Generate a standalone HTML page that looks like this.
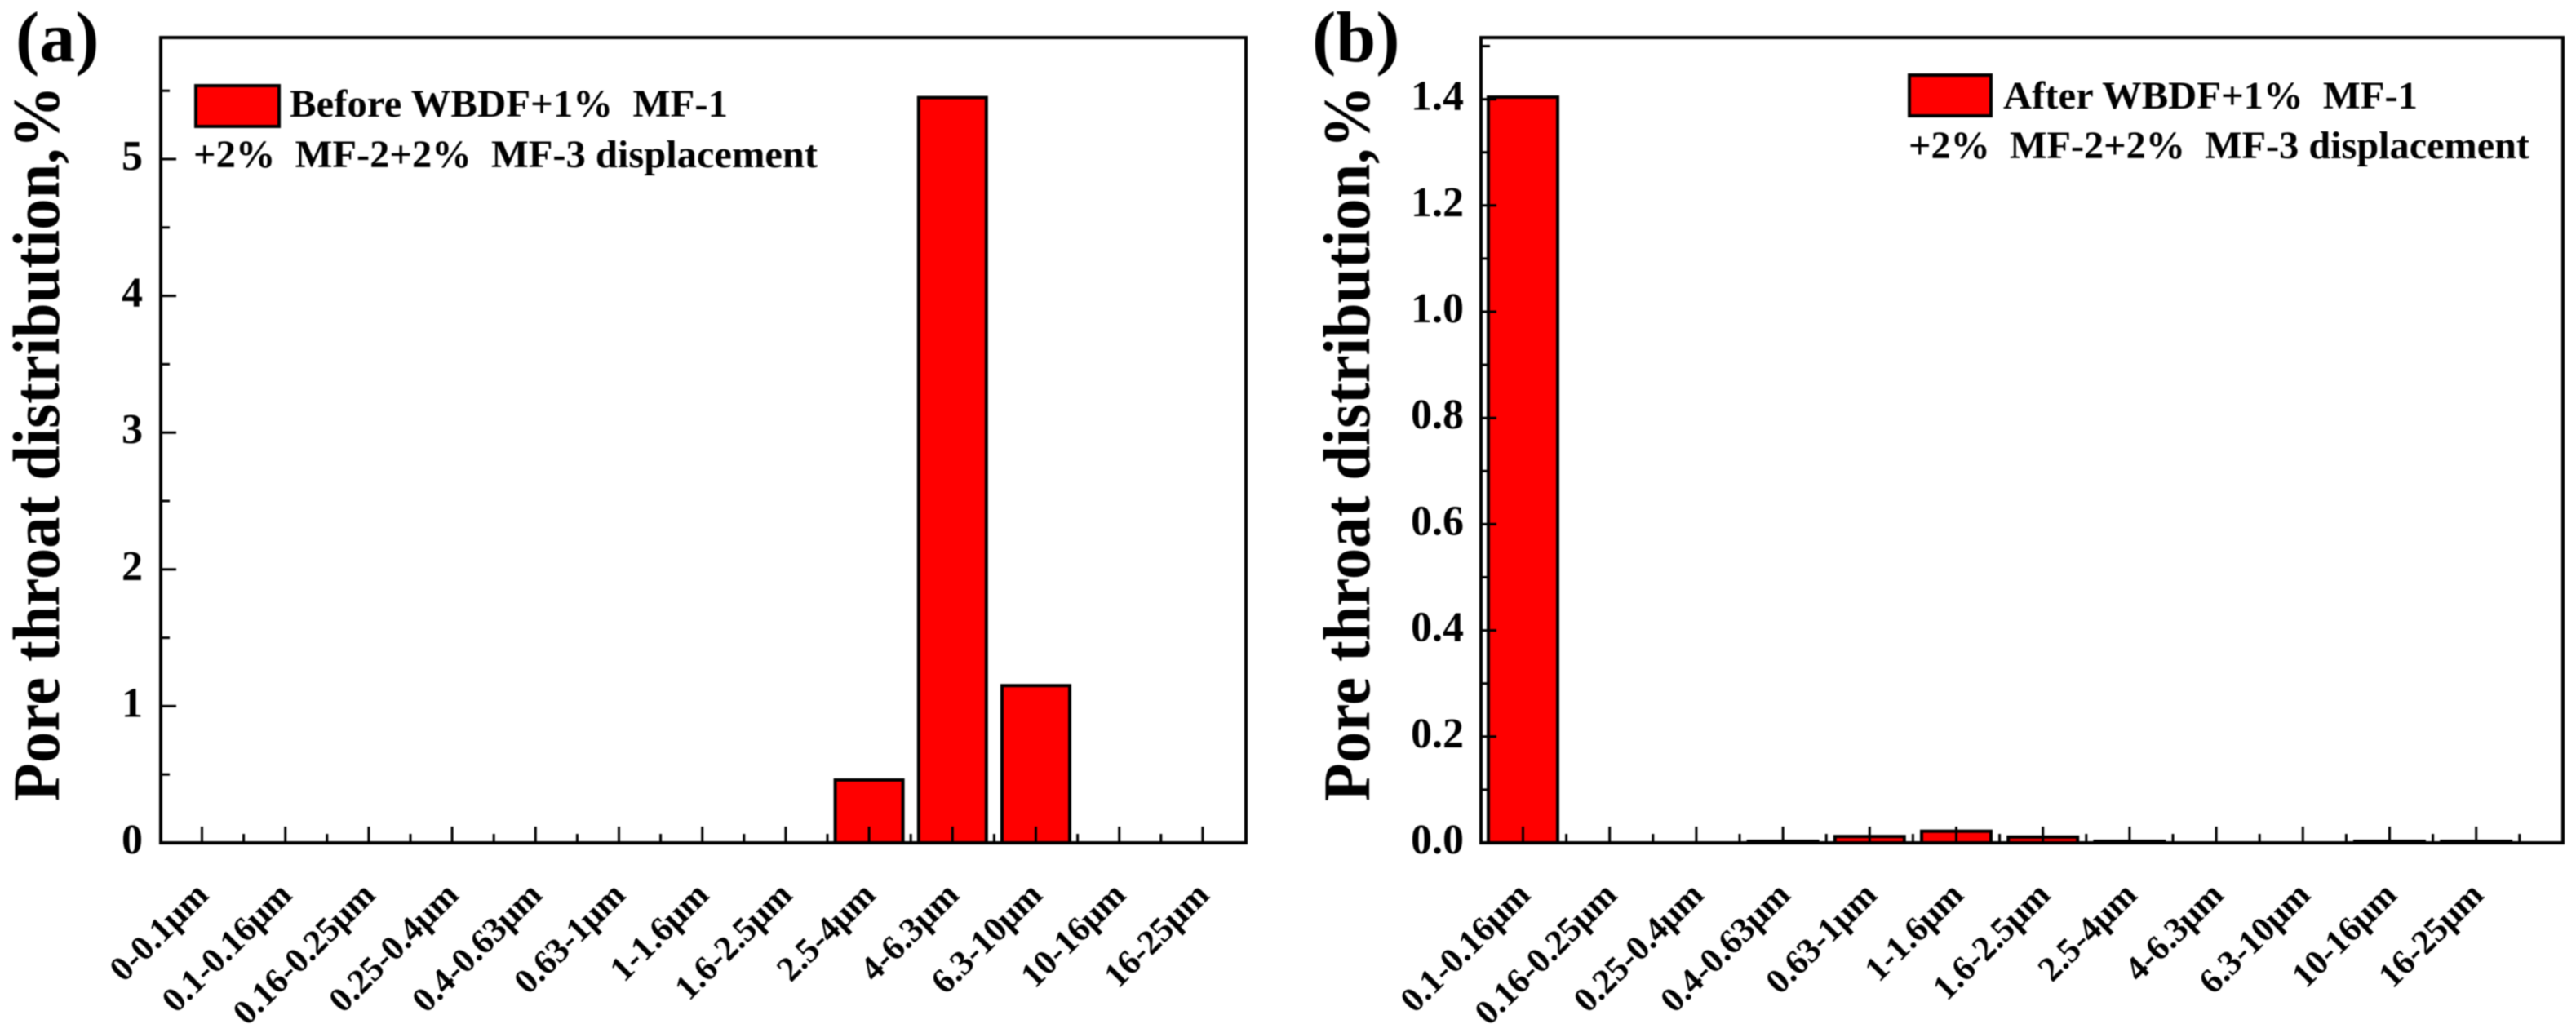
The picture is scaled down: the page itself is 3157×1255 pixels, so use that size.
<!DOCTYPE html>
<html lang="en">
<head>
<meta charset="utf-8">
<title>Pore throat distribution before and after displacement</title>
<style>
html,body{margin:0;padding:0;background:#fff;width:3157px;height:1255px;overflow:hidden}
svg{display:block;filter:blur(0.7px)}
text{font-family:"Liberation Serif","DejaVu Serif",serif;font-weight:bold;fill:#000}
</style>
</head>
<body>
<svg id="figure" xmlns="http://www.w3.org/2000/svg" width="3157" height="1255" viewBox="0 0 3157 1255">
  <rect x="0" y="0" width="3157" height="1255" fill="#fff"/>
  <g id="panel-a"></g>
  <g id="panel-b"></g>

  <text x="19" y="75" font-size="88">(a)</text>
  <text x="1608" y="75" font-size="88">(b)</text>

  <text transform="translate(72,982) rotate(-90)" font-size="82" textLength="877" lengthAdjust="spacingAndGlyphs">Pore throat distribution,%</text>
  <text transform="translate(1678,982) rotate(-90)" font-size="82" textLength="877" lengthAdjust="spacingAndGlyphs">Pore throat distribution,%</text>

  <g>
    <rect x="240" y="105" width="102" height="50" fill="#ff0000" stroke="#000" stroke-width="4"/>
    <text x="355" y="143" font-size="48" textLength="537" lengthAdjust="spacingAndGlyphs" xml:space="preserve">Before WBDF+1%  MF-1</text>
    <text x="237" y="205" font-size="48" textLength="765" lengthAdjust="spacingAndGlyphs" xml:space="preserve">+2%  MF-2+2%  MF-3 displacement</text>
  </g>
  <g>
    <rect x="2340" y="92" width="100" height="50" fill="#ff0000" stroke="#000" stroke-width="4"/>
    <text x="2455" y="133" font-size="48" textLength="508" lengthAdjust="spacingAndGlyphs" xml:space="preserve">After WBDF+1%  MF-1</text>
    <text x="2339" y="194" font-size="48" textLength="761" lengthAdjust="spacingAndGlyphs" xml:space="preserve">+2%  MF-2+2%  MF-3 displacement</text>
  </g>
</svg>
<script>
const categoriesA = ["0-0.1μm","0.1-0.16μm","0.16-0.25μm","0.25-0.4μm","0.4-0.63μm","0.63-1μm","1-1.6μm","1.6-2.5μm","2.5-4μm","4-6.3μm","6.3-10μm","10-16μm","16-25μm"];
const valuesA = [0,0,0,0,0,0,0,0,0.46,5.45,1.15,0,0];
const yTickValuesA = [0,1,2,3,4,5];
const yTickLabelsA = ["0","1","2","3","4","5"];
const yMinorValuesA = [0.5,1.5,2.5,3.5,4.5,5.5];

const categoriesB = ["0.1-0.16μm","0.16-0.25μm","0.25-0.4μm","0.4-0.63μm","0.63-1μm","1-1.6μm","1.6-2.5μm","2.5-4μm","4-6.3μm","6.3-10μm","10-16μm","16-25μm"];
const valuesB = [1.404,0,0,0.003,0.012,0.022,0.011,0.003,0,0,0.003,0.003];
const yTickValuesB = [0,0.2,0.4,0.6,0.8,1.0,1.2,1.4];
const yTickLabelsB = ["0.0","0.2","0.4","0.6","0.8","1.0","1.2","1.4"];
const yMinorValuesB = [0.1,0.3,0.5,0.7,0.9,1.1,1.3,1.5];

const SVG_NS = "http://www.w3.org/2000/svg";

function line(parent, x1, y1, x2, y2, w) {
  const el = document.createElementNS(SVG_NS, "line");
  el.setAttribute("x1", x1);
  el.setAttribute("y1", y1);
  el.setAttribute("x2", x2);
  el.setAttribute("y2", y2);
  el.setAttribute("stroke", "#000");
  el.setAttribute("stroke-width", w);
  parent.appendChild(el);
  return el;
}

function drawPanel(id, geo, categories, values, yTicks, yLabels, yMinors) {
  const g = document.getElementById(id);
  const xScale = i => geo.x0 + geo.dx * i;
  const yScale = v => geo.bottom - geo.unit * v;

  categories.forEach((c, i) => {
    const r = document.createElementNS(SVG_NS, "rect");
    r.setAttribute("x", xScale(i) - geo.barW / 2);
    r.setAttribute("y", yScale(values[i]));
    r.setAttribute("width", geo.barW);
    r.setAttribute("height", geo.bottom - yScale(values[i]));
    r.setAttribute("fill", "#ff0000");
    r.setAttribute("stroke", "#000");
    r.setAttribute("stroke-width", "4");
    
    
    g.appendChild(r);
  });

  const frame = document.createElementNS(SVG_NS, "rect");
  frame.setAttribute("x", geo.left);
  frame.setAttribute("y", geo.top);
  frame.setAttribute("width", geo.right - geo.left);
  frame.setAttribute("height", geo.bottom - geo.top);
  frame.setAttribute("fill", "none");
  frame.setAttribute("stroke", "#000");
  frame.setAttribute("stroke-width", "4");
  
  
  g.appendChild(frame);

  categories.forEach((c, i) => {
    const major = line(g, xScale(i), geo.bottom, xScale(i), geo.bottom - 20, 3);
    
    
    const hasMinor = i < categories.length - 1 || geo.trailingMinor;
    if (hasMinor) {
      const minor = line(g, xScale(i + 0.5), geo.bottom, xScale(i + 0.5), geo.bottom - 11, 3);
      
      
    }
    const t = document.createElementNS(SVG_NS, "text");
    t.textContent = c;
    t.setAttribute("text-anchor", "end");
    t.setAttribute("font-size", "43");
    t.setAttribute("transform", "translate(" + (xScale(i) + geo.labelDx) + "," + geo.labelY + ") rotate(-45)");
    
    
    g.appendChild(t);
  });

  yTicks.forEach((v, i) => {
    const major = line(g, geo.left, yScale(v), geo.left + 19, yScale(v), 3);
    
    
    const t = document.createElementNS(SVG_NS, "text");
    t.textContent = yLabels[i];
    t.setAttribute("text-anchor", "end");
    t.setAttribute("font-size", "52");
    t.setAttribute("x", geo.labelRight);
    t.setAttribute("y", yScale(v) + 13);
    
    
    g.appendChild(t);
  });

  yMinors.forEach(v => {
    const minor = line(g, geo.left, yScale(v), geo.left + 11, yScale(v), 3);
    
    
  });
}

drawPanel("panel-a",
  {left:197, right:1527, top:46, bottom:1033, x0:247.5, dx:102.2, barW:83, unit:167.6, labelDx:10, labelY:1099, labelRight:175, trailingMinor:false},
  categoriesA, valuesA, yTickValuesA, yTickLabelsA, yMinorValuesA);

drawPanel("panel-b",
  {left:1815, right:3141, top:46, bottom:1033, x0:1866.5, dx:106.2, barW:85, unit:651, labelDx:11, labelY:1099, labelRight:1794, trailingMinor:true},
  categoriesB, valuesB, yTickValuesB, yTickLabelsB, yMinorValuesB);
</script>
</body>
</html>
